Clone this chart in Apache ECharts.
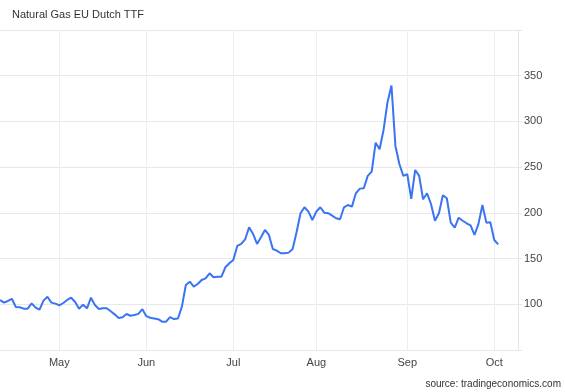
<!DOCTYPE html>
<html>
<head>
<meta charset="utf-8">
<script src="https://cdn.jsdelivr.net/npm/echarts@6/dist/echarts.min.js"></script>
<style>
html,body{margin:0;padding:0;background:#fff;}
#chart{width:565px;height:392px;}
</style>
</head>
<body>
<div id="chart"></div>
<script>
// Trading days (2022)
const dates = [
'2022-04-11','2022-04-12','2022-04-13','2022-04-14','2022-04-15','2022-04-18','2022-04-19','2022-04-20','2022-04-21','2022-04-22','2022-04-25','2022-04-26','2022-04-27','2022-04-28','2022-04-29',
'2022-05-02','2022-05-03','2022-05-04','2022-05-05','2022-05-06','2022-05-09','2022-05-10','2022-05-11','2022-05-12','2022-05-13','2022-05-16','2022-05-17','2022-05-18','2022-05-19','2022-05-20','2022-05-23','2022-05-24','2022-05-25','2022-05-26','2022-05-27','2022-05-30','2022-05-31',
'2022-06-01','2022-06-02','2022-06-03','2022-06-06','2022-06-07','2022-06-08','2022-06-09','2022-06-10','2022-06-13','2022-06-14','2022-06-15','2022-06-16','2022-06-17','2022-06-20','2022-06-21','2022-06-22','2022-06-23','2022-06-24','2022-06-27','2022-06-28','2022-06-29','2022-06-30',
'2022-07-01','2022-07-04','2022-07-05','2022-07-06','2022-07-07','2022-07-08','2022-07-11','2022-07-12','2022-07-13','2022-07-14','2022-07-15','2022-07-18','2022-07-19','2022-07-20','2022-07-21','2022-07-22','2022-07-25','2022-07-26','2022-07-27','2022-07-28','2022-07-29',
'2022-08-01','2022-08-02','2022-08-03','2022-08-04','2022-08-05','2022-08-08','2022-08-09','2022-08-10','2022-08-11','2022-08-12','2022-08-15','2022-08-16','2022-08-17','2022-08-18','2022-08-19','2022-08-22','2022-08-23','2022-08-24','2022-08-25','2022-08-26','2022-08-29','2022-08-30','2022-08-31',
'2022-09-01','2022-09-02','2022-09-05','2022-09-06','2022-09-07','2022-09-08','2022-09-09','2022-09-12','2022-09-13','2022-09-14','2022-09-15','2022-09-16','2022-09-19','2022-09-20','2022-09-21','2022-09-22','2022-09-23','2022-09-26','2022-09-27','2022-09-28','2022-09-29','2022-09-30',
'2022-10-03','2022-10-04'
];

// EUR/MWh
const prices = [
104.7,101.8,103.6,106,97,96.7,95.2,95.2,101,96.3,94.1,104,108.3,101.8,100.7,
98.9,101.4,104.7,107.2,102.5,95.2,99.6,95.6,107.2,99.2,94.9,95.6,95.6,92.3,89,85,85.8,89.4,87.5,88.3,89.5,94.7,
87,85.3,84.5,83.7,81,81,86,83.8,84.5,97.4,121.1,124.7,119.3,122.2,126.6,128.4,133.9,129.5,130.2,130.2,140.5,144.9,
148.5,163.8,166,171.1,184.2,176.9,166,173.3,181.3,175.8,160.5,158.6,155.8,155.8,156.5,160.5,178.8,199.6,206.1,201.3,192.2,
201.3,206.1,200.2,199.6,197,194.1,193,206.1,208.6,206.8,221.4,226.5,226.9,240.4,245.1,276.8,269.6,290.7,321,339.2,273.2,253.5,240.4,
242.2,215.2,246.9,240.4,214.9,221.4,209.7,191.4,199.6,219.3,216,189.3,183.8,194.7,191.4,188.6,186.4,175.8,187.9,208.6,189.3,189.7,
170.3,165.6
];

const monthNames = ['Jan','Feb','Mar','Apr','May','Jun','Jul','Aug','Sep','Oct','Nov','Dec'];
const yTicks = [100,150,200,250,300,350];

const titleText = 'Natural Gas EU Dutch TTF';
const sourceText = 'source: tradingeconomics.com';

// axis extends a few trading days past the last observation
const categories = dates.concat(['', '', '', '', '']);

function isMonthStart(i) {
  if (i <= 0 || i >= dates.length) return false;
  return dates[i].slice(5, 7) !== dates[i - 1].slice(5, 7);
}

const chart = echarts.init(document.getElementById('chart'), null, {renderer: 'canvas'});
chart.setOption({
  animation: false,
  backgroundColor: '#ffffff',
  textStyle: {fontFamily: 'Liberation Sans, Arial, sans-serif'},
  title: {
    text: titleText,
    left: 12, top: 9, padding: 0,
    textStyle: {fontSize: 11, fontWeight: 'normal', color: '#333', fontFamily: 'Liberation Sans, Arial, sans-serif'}
  },
  graphic: [{
    type: 'text', right: 4, top: 379,
    style: {text: sourceText, fontSize: 10, fill: '#333', fontFamily: 'Liberation Sans, Arial, sans-serif'}
  }],
  grid: {left: 0, right: 47, top: 30, bottom: 42, containLabel: false},
  xAxis: {
    type: 'category',
    data: categories,
    boundaryGap: false,
    axisLine: {show: false},
    axisTick: {show: false},
    axisLabel: {
      interval: function (i) { return isMonthStart(i); },
      formatter: function (v) { return v ? monthNames[parseInt(v.slice(5, 7), 10) - 1] : ''; },
      color: '#444', fontSize: 11, margin: 7
    },
    splitLine: {
      show: true,
      interval: function (i) { return isMonthStart(i); },
      lineStyle: {color: '#eceef5', width: 1}
    }
  },
  yAxis: {
    type: 'value',
    position: 'right',
    min: 50, max: 400, interval: 50,
    axisLine: {show: true, lineStyle: {color: '#e4e4e4'}},
    axisTick: {show: true, length: 4, lineStyle: {color: '#e8e8e8'}},
    axisLabel: {
      color: '#444', fontSize: 11, margin: 6,
      formatter: function (v) { return yTicks.indexOf(v) >= 0 ? String(v) : ''; }
    },
    splitLine: {show: true, lineStyle: {color: '#e8e8e8', width: 1}}
  },
  series: [{
    type: 'line',
    data: prices,
    symbol: 'none',
    lineStyle: {color: '#3b74f3', width: 2},
    itemStyle: {color: '#3b74f3'}
  }]
});
</script>
</body>
</html>
